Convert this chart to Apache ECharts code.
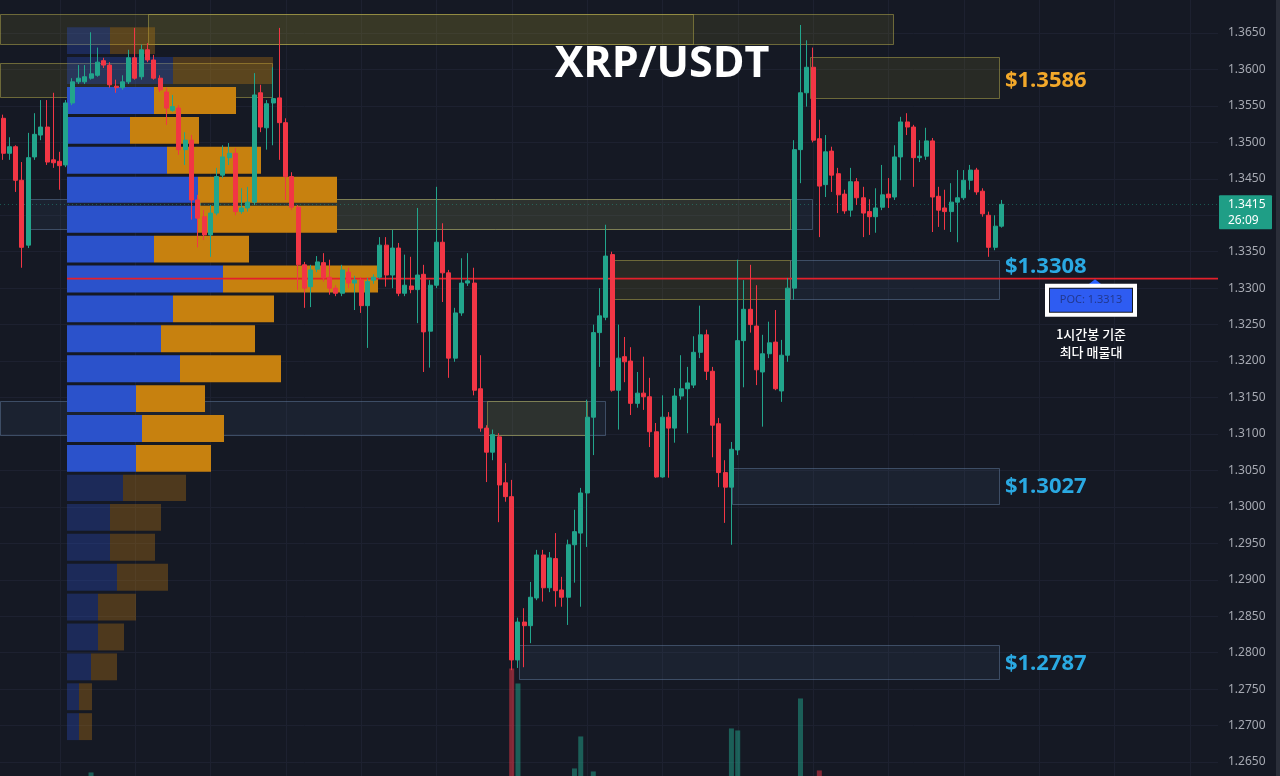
<!DOCTYPE html>
<html><head><meta charset="utf-8">
<script src="https://cdn.jsdelivr.net/npm/echarts@6/dist/echarts.min.js"></script>
<style>html,body{margin:0;padding:0;background:#151924;}#c{width:1280px;height:776px;}</style>
</head><body><div id="c"></div>
<script>
// ---------------- data ----------------
const chartTitle = 'XRP/USDT';
const slotCount = 194; // candle slots visible (incl. empty right margin)
const categories = Array.from({length: slotCount}, (_, i) => String(i));

const opens = [1.3533,1.3485,1.3494,1.3448,1.3359,1.3480,1.3510,1.3521,1.3476,1.3474,1.3469,1.3554,1.3583,1.3583,1.3588,1.3592,1.3612,1.3606,1.3577,1.3575,1.3583,1.3616,1.3590,1.3627,1.3613,1.3588,1.3569,1.3544,1.3547,1.3490,1.3503,1.3421,1.3398,1.3373,1.3403,1.3455,1.3479,1.3485,1.3405,1.3410,1.3418,1.3568,1.3520,1.3554,1.3561,1.3527,1.3453,1.3411,1.3332,1.3302,1.3326,1.3335,1.3315,1.3300,1.3293,1.3322,1.3307,1.3311,1.3276,1.3311,1.3315,1.3359,1.3318,1.3355,1.3293,1.3303,1.3298,1.3319,1.3241,1.3304,1.3363,1.3321,1.3204,1.3266,1.3307,1.3307,1.3162,1.3108,1.3075,1.3096,1.3033,1.3014,1.2790,1.2842,1.2837,1.2875,1.2934,1.2889,1.2929,1.2886,1.2876,1.2948,1.2964,1.3019,1.3123,1.3239,1.3260,1.3346,1.3160,1.3206,1.3200,1.3142,1.3156,1.3151,1.3103,1.3041,1.3123,1.3108,1.3152,1.3162,1.3167,1.3212,1.3236,1.3186,1.3114,1.3047,1.3027,1.3078,1.3228,1.3271,1.3248,1.3185,1.3210,1.3226,1.3159,1.3208,1.3300,1.3490,1.3568,1.3603,1.3505,1.3442,1.3488,1.3457,1.3429,1.3407,1.3446,1.3424,1.3405,1.3398,1.3411,1.3429,1.3425,1.3480,1.3528,1.3521,1.3479,1.3481,1.3502,1.3426,1.3410,1.3405,1.3418,1.3424,1.3448,1.3462,1.3433,1.3400,1.3356,1.3385];
const closes = [1.3485,1.3494,1.3448,1.3356,1.3479,1.3511,1.3521,1.3473,1.3472,1.3468,1.3554,1.3583,1.3588,1.3590,1.3594,1.3610,1.3606,1.3579,1.3575,1.3583,1.3616,1.3588,1.3627,1.3613,1.3588,1.3572,1.3547,1.3549,1.3490,1.3503,1.3421,1.3396,1.3373,1.3403,1.3453,1.3480,1.3485,1.3405,1.3410,1.3418,1.3565,1.3521,1.3553,1.3560,1.3527,1.3453,1.3411,1.3332,1.3300,1.3325,1.3336,1.3314,1.3300,1.3293,1.3325,1.3307,1.3311,1.3276,1.3309,1.3315,1.3359,1.3318,1.3355,1.3293,1.3304,1.3298,1.3318,1.3240,1.3304,1.3363,1.3321,1.3204,1.3266,1.3307,1.3310,1.3160,1.3108,1.3075,1.3099,1.3030,1.3014,1.2790,1.2842,1.2837,1.2876,1.2934,1.2889,1.2930,1.2885,1.2876,1.2948,1.2966,1.3019,1.3123,1.3239,1.3262,1.3344,1.3160,1.3204,1.3199,1.3142,1.3156,1.3151,1.3103,1.3041,1.3123,1.3108,1.3152,1.3162,1.3170,1.3212,1.3236,1.3186,1.3112,1.3047,1.3027,1.3079,1.3228,1.3271,1.3250,1.3188,1.3210,1.3225,1.3162,1.3208,1.3300,1.3490,1.3568,1.3603,1.3503,1.3440,1.3487,1.3455,1.3428,1.3406,1.3446,1.3424,1.3403,1.3398,1.3410,1.3428,1.3424,1.3480,1.3528,1.3521,1.3479,1.3481,1.3502,1.3425,1.3407,1.3405,1.3418,1.3424,1.3448,1.3462,1.3432,1.3402,1.3356,1.3385,1.3415];
const lows = [1.3476,1.3476,1.3432,1.3328,1.3355,1.3476,1.3503,1.3469,1.3465,1.3435,1.3466,1.3551,1.3580,1.3580,1.3586,1.3590,1.3602,1.3575,1.3568,1.3572,1.3580,1.3586,1.3586,1.3610,1.3586,1.3569,1.3524,1.3542,1.3483,1.3469,1.3394,1.3356,1.3366,1.3343,1.3400,1.3451,1.3469,1.3400,1.3402,1.3405,1.3414,1.3514,1.3490,1.3496,1.3476,1.3421,1.3407,1.3298,1.3273,1.3274,1.3322,1.3309,1.3291,1.3289,1.3289,1.3300,1.3270,1.3266,1.3218,1.3306,1.3313,1.3302,1.3300,1.3289,1.3289,1.3293,1.3252,1.3185,1.3191,1.3300,1.3281,1.3177,1.3199,1.3262,1.3303,1.3153,1.3103,1.3034,1.3064,1.2979,1.3007,1.2776,1.2779,1.2780,1.2813,1.2872,1.2870,1.2883,1.2863,1.2863,1.2838,1.2896,1.2863,1.2945,1.3071,1.3192,1.3256,1.3158,1.3106,1.3171,1.3126,1.3136,1.3133,1.3082,1.3040,1.3040,1.3040,1.3088,1.3147,1.3101,1.3163,1.3204,1.3174,1.3068,1.3027,1.2978,1.2948,1.3071,1.3164,1.3239,1.3167,1.3110,1.3204,1.3160,1.3144,1.3199,1.3284,1.3444,1.3549,1.3500,1.3370,1.3425,1.3432,1.3403,1.3402,1.3398,1.3414,1.3370,1.3373,1.3376,1.3407,1.3410,1.3421,1.3448,1.3510,1.3439,1.3473,1.3476,1.3377,1.3384,1.3380,1.3377,1.3363,1.3421,1.3435,1.3428,1.3398,1.3343,1.3352,1.3383];
const highs = [1.3538,1.3507,1.3496,1.3473,1.3513,1.3540,1.3558,1.3558,1.3568,1.3487,1.3558,1.3588,1.3606,1.3606,1.3651,1.3630,1.3616,1.3610,1.3586,1.3592,1.3627,1.3657,1.3634,1.3636,1.3620,1.3592,1.3575,1.3565,1.3551,1.3514,1.3510,1.3428,1.3407,1.3414,1.3465,1.3496,1.3499,1.3492,1.3437,1.3439,1.3595,1.3579,1.3558,1.3603,1.3657,1.3533,1.3459,1.3414,1.3336,1.3332,1.3344,1.3348,1.3339,1.3304,1.3332,1.3328,1.3317,1.3315,1.3314,1.3319,1.3370,1.3370,1.3380,1.3362,1.3346,1.3343,1.3410,1.3332,1.3311,1.3439,1.3389,1.3325,1.3273,1.3341,1.3348,1.3328,1.3208,1.3112,1.3106,1.3101,1.3060,1.3037,1.2848,1.2861,1.2897,1.2941,1.2941,1.2938,1.2964,1.2904,1.2955,1.2996,1.3026,1.3147,1.3250,1.3300,1.3387,1.3350,1.3250,1.3233,1.3219,1.3185,1.3206,1.3177,1.3115,1.3153,1.3130,1.3163,1.3208,1.3192,1.3234,1.3276,1.3243,1.3192,1.3122,1.3064,1.3089,1.3339,1.3311,1.3332,1.3304,1.3236,1.3254,1.3270,1.3229,1.3314,1.3503,1.3661,1.3640,1.3630,1.3531,1.3510,1.3494,1.3465,1.3435,1.3465,1.3451,1.3439,1.3422,1.3437,1.3469,1.3451,1.3496,1.3535,1.3540,1.3524,1.3503,1.3520,1.3506,1.3439,1.3435,1.3444,1.3462,1.3462,1.3469,1.3465,1.3437,1.3405,1.3400,1.3421];

// volume bars (only the ones tall enough to show at the bottom edge)
const volumeIdx = [14, 81, 82, 91, 92, 94, 116, 117, 127, 130];
const volumeVal = [2.6, 13.0, 11.5, 3.0, 6.2, 2.7, 7.0, 6.8, 10.0, 2.8];

// price scale
const priceMin = 1.26, priceMax = 1.37, priceStep = 0.005;
const timeGridIdx = [9, 21, 33, 45, 57, 69, 81, 93, 105, 117, 129, 141, 153, 165, 177, 189];

// visible-range volume profile
const profileTop    = [1.3660,1.3619,1.3578,1.3537,1.3496,1.3455,1.3415,1.3374,1.3333,1.3292,1.3251,1.3210,1.3169,1.3128,1.3087,1.3046,1.3006,1.2965,1.2924,1.2883,1.2842,1.2801,1.2760,1.2719];
const profileBottom = [1.3619,1.3578,1.3537,1.3496,1.3455,1.3415,1.3374,1.3333,1.3292,1.3251,1.3210,1.3169,1.3128,1.3087,1.3046,1.3006,1.2965,1.2924,1.2883,1.2842,1.2801,1.2760,1.2719,1.2678];
const profileUp     = [43,106,87,63,100,131,130,87,156,106,94,113,69,75,69,56,43,43,50,31,31,24,12,12];
const profileDown   = [45,100,82,69,94,139,140,95,155,101,94,101,69,82,75,63,51,45,51,38,26,26,13,13];
const valueAreaHigh = 1.3578, valueAreaLow = 1.3046;
const pocPrice = 1.3313;
const lastPrice = 1.3415, countdown = '26:09';

// zones: 0 = supply (yellow), 1 = demand (blue)
const zoneStart  = [-0.5, 23.1, -0.5, 128.5, 3.8, 31.4, 97.1, 125.3, -0.5, 77.1, 116.1, 82.2];
const zoneEnd    = [109.9, 141.7, 42.8, 158.6, 128.8, 125.3, 125.3, 158.6, 95.9, 93.0, 158.6, 158.6];
const zoneTop    = [1.3676, 1.3676, 1.3609, 1.3617, 1.3422, 1.3422, 1.3339, 1.3339, 1.3145, 1.3145, 1.3053, 1.2811];
const zoneBottom = [1.3635, 1.3635, 1.3562, 1.3561, 1.3381, 1.3381, 1.3285, 1.3285, 1.3099, 1.3099, 1.3004, 1.2764];
const zoneKind   = [0, 0, 0, 0, 1, 0, 0, 1, 1, 0, 1, 1];

const levelValue  = [1.3586, 1.3308, 1.3027, 1.2787];
const levelAnchor = [1.3584, 1.3330, 1.3027, 1.2785];
const levelEnd    = [158.6, 158.6, 158.6, 158.6];
const levelKind   = [0, 1, 1, 1];

const pocNote = ['1시간봉 기준', '최다 매물대'];

// ---------------- chart ----------------
const UP = '#22a58c', DOWN = '#f23645';
const chart = echarts.init(document.getElementById('c'), null, {renderer: 'canvas'});

const candleData = opens.map((o, i) => [o, closes[i], lows[i], highs[i]]);
const volData = categories.map(() => null);
volumeIdx.forEach((idx, k) => {
  volData[idx] = {value: volumeVal[k], itemStyle: {color: closes[idx] >= opens[idx] ? 'rgba(34,165,140,0.5)' : 'rgba(242,54,69,0.5)'}};
});
const zoneData = zoneStart.map((s, i) => [s, zoneEnd[i], zoneTop[i], zoneBottom[i], zoneKind[i]]);
const profileData = profileTop.map((t, i) => [t, profileBottom[i], profileUp[i], profileDown[i]]);
const levelData = levelValue.map((v, i) => [levelEnd[i], levelAnchor[i], v, levelKind[i]]);

const option = {
  backgroundColor: '#151924',
  animation: false,
  grid: {left: 0, right: 62, top: -3.45, bottom: -22.45, containLabel: false, outerBoundsMode: 'none'},
  xAxis: [
    {type: 'category', data: categories, boundaryGap: true, show: false},
    {type: 'value', min: -67, max: 1151, show: false},
    {type: 'value', min: -0.5, max: slotCount - 0.5, show: false}
  ],
  yAxis: [
    {type: 'value', position: 'right', min: priceMin, max: priceMax, interval: priceStep,
     axisLine: {show: false}, axisTick: {show: false},
     axisLabel: {color: '#a6a9b2', fontSize: 12, fontFamily: 'Noto Sans', margin: 10, align: 'left',
                 formatter: v => v.toFixed(4)},
     splitLine: {lineStyle: {color: '#1d2130', width: 1}}},
    {type: 'value', min: 0, max: 80.2, show: false}
  ],
  series: [
    { // vertical time grid
      type: 'custom', xAxisIndex: 2, yAxisIndex: 0, z: 0, silent: true,
      data: timeGridIdx.map(v => [v, priceMin]),
      encode: {x: 0, y: 1},
      renderItem(params, api) {
        const p = api.coord([api.value(0), priceMin]);
        const cs = params.coordSys;
        return {type: 'line', shape: {x1: Math.round(p[0]) + 0.5, y1: cs.y, x2: Math.round(p[0]) + 0.5, y2: cs.y + cs.height},
                style: {stroke: '#1d2130', lineWidth: 1}};
      }
    },
    { // zones
      type: 'custom', xAxisIndex: 2, yAxisIndex: 0, z: 1, silent: true,
      data: zoneData, encode: {x: [0, 1], y: [2, 3]},
      renderItem(params, api) {
        const a = api.coord([api.value(0), api.value(2)]);
        const b = api.coord([api.value(1), api.value(3)]);
        const k = api.value(4);
        const fill = k === 0 ? 'rgba(135,128,50,0.17)' : 'rgba(80,105,150,0.11)';
        const stroke = k === 0 ? 'rgba(175,165,75,0.55)' : 'rgba(100,125,160,0.5)';
        return {type: 'rect', shape: {x: Math.round(a[0]) + 0.5, y: Math.round(a[1]) + 0.5, width: Math.round(b[0] - a[0]), height: Math.round(b[1] - a[1])},
                style: {fill, stroke, lineWidth: 1}};
      }
    },
    { // volume profile
      type: 'custom', xAxisIndex: 1, yAxisIndex: 0, z: 2, silent: true,
      data: profileData, encode: {y: [0, 1]},
      renderItem(params, api) {
        const top = api.value(0), bot = api.value(1), up = api.value(2), dn = api.value(3);
        const a = api.coord([0, top]), b = api.coord([up, bot]), c = api.coord([up + dn, bot]);
        const inVA = top <= valueAreaHigh + 1e-9 && bot >= valueAreaLow - 1e-9;
        const op = inVA ? 1 : 0.32;
        const y0 = a[1] + 1.5, h = b[1] - a[1] - 3;
        return {type: 'group', children: [
          {type: 'rect', shape: {x: a[0], y: y0, width: b[0] - a[0], height: h}, style: {fill: '#2b52cb', opacity: op}},
          {type: 'rect', shape: {x: b[0], y: y0, width: c[0] - b[0], height: h}, style: {fill: '#c7810f', opacity: op}}
        ]};
      }
    },
    { // volume bars
      type: 'bar', xAxisIndex: 0, yAxisIndex: 1, z: 3, barWidth: 5, silent: true,
      data: volData
    },
    { // POC line + current price line
      type: 'custom', xAxisIndex: 1, yAxisIndex: 0, z: 4, silent: true,
      data: [[0, pocPrice]], encode: {x: 0, y: 1},
      renderItem(params, api) {
        const cs = params.coordSys;
        const a = api.coord([0, pocPrice]);
        const lp = api.coord([0, lastPrice]);
        return {type: 'group', children: [
          {type: 'line', shape: {x1: cs.x, y1: Math.round(lp[1]) + 0.5, x2: cs.x + cs.width, y2: Math.round(lp[1]) + 0.5},
           style: {stroke: 'rgba(34,165,140,0.45)', lineWidth: 1, lineDash: [1, 3]}},
          {type: 'line', shape: {x1: a[0], y1: a[1], x2: cs.x + cs.width, y2: a[1]},
           style: {stroke: '#e3202b', lineWidth: 1.6}}
        ]};
      }
    },
    { // candles
      type: 'candlestick', xAxisIndex: 0, yAxisIndex: 0, z: 5, barWidth: 4.5, silent: true,
      data: candleData,
      itemStyle: {color: UP, color0: DOWN, borderColor: UP, borderColor0: DOWN, borderWidth: 1}
    },
    { // level labels
      type: 'custom', xAxisIndex: 2, yAxisIndex: 0, z: 8, silent: true,
      data: levelData, encode: {x: 0, y: 1},
      renderItem(params, api) {
        const p = api.coord([api.value(0), api.value(1)]);
        return {type: 'text', x: p[0] + 6, y: p[1],
                style: {text: '$' + api.value(2).toFixed(4), fill: api.value(3) === 0 ? '#f2a82a' : '#2aa9e2',
                        font: 'bold 22px "Open Sans", "Noto Sans", sans-serif', textAlign: 'left', textVerticalAlign: 'middle'}};
      }
    },
    { // POC callout + last price tag
      type: 'custom', xAxisIndex: 1, yAxisIndex: 0, z: 9, silent: true,
      data: [[0, pocPrice]], encode: {x: 0, y: 1},
      renderItem(params, api) {
        const cs = params.coordSys;
        const y = api.coord([0, pocPrice])[1];
        const cx = cs.x + cs.width - 125;
        const ty = api.coord([0, lastPrice])[1];
        const rx = cs.x + cs.width;
        return {type: 'group', children: [
          {type: 'polygon', shape: {points: [[cx + 2, y + 0.5], [cx - 5, y + 6], [cx + 9, y + 6]]}, style: {fill: '#2962ff'}},
          {type: 'rect', shape: {x: cx - 48, y: y + 5, width: 92, height: 33}, style: {fill: '#ffffff'}},
          {type: 'rect', shape: {x: cx - 44, y: y + 9, width: 84, height: 25}, style: {fill: '#151924'}},
          {type: 'rect', shape: {x: cx - 43, y: y + 10, width: 82, height: 23}, style: {fill: '#2e5cf2'}},
          {type: 'text', x: cx - 2, y: y + 21.5, style: {text: 'POC: ' + pocPrice.toFixed(4), fill: '#22388f',
            font: '11px "Noto Sans", sans-serif', textAlign: 'center', textVerticalAlign: 'middle'}},
          {type: 'text', x: cx - 2, y: y + 55, style: {text: pocNote[0], fill: '#ffffff',
            font: '500 13px "Noto Sans CJK KR", "Noto Sans", sans-serif', textAlign: 'center', textVerticalAlign: 'middle'}},
          {type: 'text', x: cx - 2, y: y + 73, style: {text: pocNote[1], fill: '#ffffff',
            font: '500 13px "Noto Sans CJK KR", "Noto Sans", sans-serif', textAlign: 'center', textVerticalAlign: 'middle'}},
          {type: 'rect', shape: {x: rx + 1, y: ty - 9, width: 53, height: 34, r: 1}, style: {fill: '#1f9e86'}},
          {type: 'text', x: rx + 10, y: ty, style: {text: lastPrice.toFixed(4), fill: '#ffffff',
            font: '12px "Noto Sans", sans-serif', textAlign: 'left', textVerticalAlign: 'middle'}},
          {type: 'text', x: rx + 10, y: ty + 16, style: {text: countdown, fill: '#ffffff',
            font: '12px "Noto Sans", sans-serif', textAlign: 'left', textVerticalAlign: 'middle'}}
        ]};
      }
    }
  ],
  graphic: [
    {type: 'text', x: 662, y: 65, z: 100,
     style: {text: chartTitle, fill: '#ffffff', font: 'bold 43px "Open Sans", "Noto Sans", sans-serif',
             textAlign: 'center', textVerticalAlign: 'middle'}},
    {type: 'rect', shape: {x: 1276, y: 0, width: 4, height: 776}, style: {fill: '#2a2e39'}, z: 100}
  ]
};
chart.setOption(option);
</script></body></html>
